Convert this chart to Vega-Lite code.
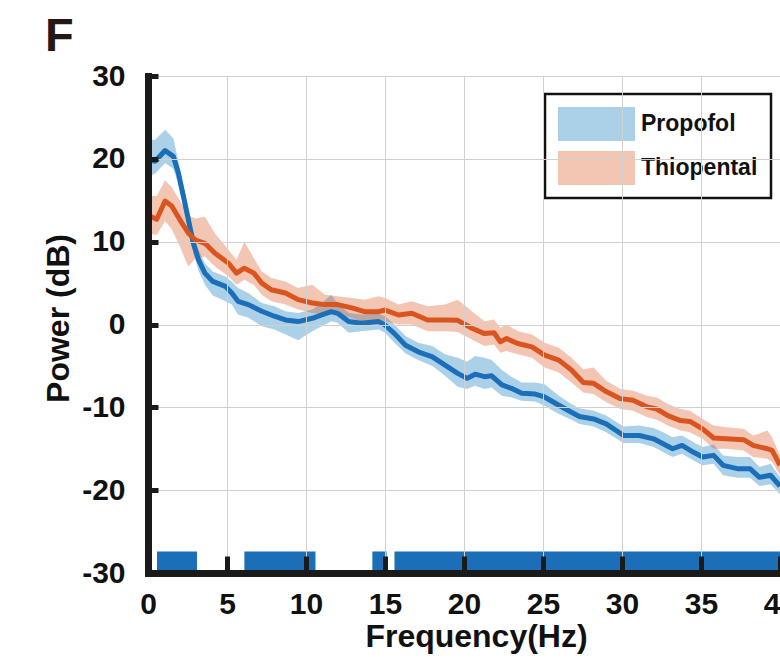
{
  "$schema": "https://vega.github.io/schema/vega-lite/v6.json",
  "width": 632,
  "height": 497,
  "autosize": "none",
  "padding": {"left": 148, "top": 76, "right": 0, "bottom": 88},
  "background": "white",
  "config": {"view": {"stroke": null}, "font": "Liberation Sans", "legend": {"strokeWidth": 2.5}},
  "title": {"text": "F", "anchor": "start", "frame": "group", "fontSize": 47, "fontWeight": "bold", "color": "#231815", "dx": -103, "dy": 49, "offset": 12, "baseline": "alphabetic"},
  "datasets": {
    "psd": [
      {"g":"Propofol","f":0.1,"m":19.9,"lo":18.0,"hi":22.3},
      {"g":"Propofol","f":0.45,"m":19.7,"lo":18.2,"hi":22.3},
      {"g":"Propofol","f":1.08,"m":21.0,"lo":19.5,"hi":23.5},
      {"g":"Propofol","f":1.6,"m":20.3,"lo":18.8,"hi":22.5},
      {"g":"Propofol","f":1.92,"m":18.3,"lo":17.0,"hi":19.8},
      {"g":"Propofol","f":2.24,"m":15.5,"lo":14.2,"hi":16.8},
      {"g":"Propofol","f":2.55,"m":12.7,"lo":11.5,"hi":13.9},
      {"g":"Propofol","f":2.87,"m":9.8,"lo":8.6,"hi":11.0},
      {"g":"Propofol","f":3.2,"m":7.8,"lo":6.5,"hi":9.0},
      {"g":"Propofol","f":3.6,"m":6.2,"lo":4.8,"hi":7.4},
      {"g":"Propofol","f":4.1,"m":5.2,"lo":3.5,"hi":6.4},
      {"g":"Propofol","f":4.9,"m":4.6,"lo":2.8,"hi":5.8},
      {"g":"Propofol","f":5.3,"m":3.8,"lo":2.4,"hi":5.2},
      {"g":"Propofol","f":5.7,"m":2.8,"lo":1.2,"hi":4.4},
      {"g":"Propofol","f":6.35,"m":2.4,"lo":0.8,"hi":3.8},
      {"g":"Propofol","f":7.2,"m":1.6,"lo":-0.2,"hi":2.6},
      {"g":"Propofol","f":8.0,"m":1.0,"lo":-0.6,"hi":2.2},
      {"g":"Propofol","f":8.7,"m":0.55,"lo":-1.2,"hi":1.6},
      {"g":"Propofol","f":9.5,"m":0.35,"lo":-1.9,"hi":1.4},
      {"g":"Propofol","f":10.4,"m":0.75,"lo":-0.8,"hi":1.8},
      {"g":"Propofol","f":11.0,"m":1.15,"lo":-0.2,"hi":2.6},
      {"g":"Propofol","f":11.6,"m":1.55,"lo":0.4,"hi":3.6},
      {"g":"Propofol","f":12.0,"m":1.35,"lo":0.2,"hi":2.5},
      {"g":"Propofol","f":12.7,"m":0.35,"lo":-1.0,"hi":1.4},
      {"g":"Propofol","f":13.5,"m":0.15,"lo":-0.8,"hi":1.2},
      {"g":"Propofol","f":14.6,"m":0.35,"lo":-0.6,"hi":1.3},
      {"g":"Propofol","f":15.0,"m":-0.06,"lo":-1.0,"hi":1.0},
      {"g":"Propofol","f":15.6,"m":-1.1,"lo":-2.2,"hi":0.0},
      {"g":"Propofol","f":16.3,"m":-2.5,"lo":-3.5,"hi":-1.4},
      {"g":"Propofol","f":17.1,"m":-3.3,"lo":-4.3,"hi":-2.2},
      {"g":"Propofol","f":18.0,"m":-3.9,"lo":-5.0,"hi":-2.6},
      {"g":"Propofol","f":18.8,"m":-4.9,"lo":-6.2,"hi":-3.6},
      {"g":"Propofol","f":19.6,"m":-5.9,"lo":-7.5,"hi":-4.0},
      {"g":"Propofol","f":20.2,"m":-6.5,"lo":-7.8,"hi":-4.5},
      {"g":"Propofol","f":20.7,"m":-6.0,"lo":-7.4,"hi":-3.8},
      {"g":"Propofol","f":21.3,"m":-6.3,"lo":-7.8,"hi":-4.0},
      {"g":"Propofol","f":21.75,"m":-6.2,"lo":-7.6,"hi":-4.3},
      {"g":"Propofol","f":22.4,"m":-7.3,"lo":-8.6,"hi":-5.5},
      {"g":"Propofol","f":23.0,"m":-7.7,"lo":-8.8,"hi":-6.3},
      {"g":"Propofol","f":23.65,"m":-8.3,"lo":-9.2,"hi":-7.0},
      {"g":"Propofol","f":24.5,"m":-8.4,"lo":-9.3,"hi":-7.0},
      {"g":"Propofol","f":25.1,"m":-8.75,"lo":-9.8,"hi":-7.2},
      {"g":"Propofol","f":26.0,"m":-9.75,"lo":-10.8,"hi":-8.6},
      {"g":"Propofol","f":26.8,"m":-10.6,"lo":-11.5,"hi":-9.6},
      {"g":"Propofol","f":27.3,"m":-11.1,"lo":-12.0,"hi":-10.1},
      {"g":"Propofol","f":28.2,"m":-11.4,"lo":-12.3,"hi":-10.4},
      {"g":"Propofol","f":29.0,"m":-12.0,"lo":-13.0,"hi":-11.0},
      {"g":"Propofol","f":30.1,"m":-13.4,"lo":-14.3,"hi":-12.3},
      {"g":"Propofol","f":31.1,"m":-13.4,"lo":-14.3,"hi":-12.2},
      {"g":"Propofol","f":32.0,"m":-13.8,"lo":-14.8,"hi":-12.5},
      {"g":"Propofol","f":32.6,"m":-14.4,"lo":-15.4,"hi":-13.0},
      {"g":"Propofol","f":33.2,"m":-15.0,"lo":-16.0,"hi":-13.6},
      {"g":"Propofol","f":33.8,"m":-14.6,"lo":-15.6,"hi":-13.4},
      {"g":"Propofol","f":34.5,"m":-15.4,"lo":-16.4,"hi":-14.2},
      {"g":"Propofol","f":35.1,"m":-16.0,"lo":-17.0,"hi":-14.8},
      {"g":"Propofol","f":35.8,"m":-15.8,"lo":-16.8,"hi":-14.5},
      {"g":"Propofol","f":36.4,"m":-17.0,"lo":-18.2,"hi":-15.8},
      {"g":"Propofol","f":37.3,"m":-17.4,"lo":-18.5,"hi":-16.0},
      {"g":"Propofol","f":38.1,"m":-17.4,"lo":-18.5,"hi":-16.0},
      {"g":"Propofol","f":38.7,"m":-18.45,"lo":-19.5,"hi":-17.2},
      {"g":"Propofol","f":39.4,"m":-18.2,"lo":-19.3,"hi":-16.8},
      {"g":"Propofol","f":40.0,"m":-19.5,"lo":-20.5,"hi":-18.4},
      {"g":"Thiopental","f":0.1,"m":13.1,"lo":11.0,"hi":15.5},
      {"g":"Thiopental","f":0.55,"m":12.7,"lo":10.8,"hi":15.5},
      {"g":"Thiopental","f":1.08,"m":14.9,"lo":12.5,"hi":17.4},
      {"g":"Thiopental","f":1.5,"m":14.3,"lo":11.5,"hi":16.6},
      {"g":"Thiopental","f":2.0,"m":12.7,"lo":9.5,"hi":15.0},
      {"g":"Thiopental","f":2.55,"m":11.05,"lo":7.0,"hi":13.2},
      {"g":"Thiopental","f":3.0,"m":10.2,"lo":8.0,"hi":12.8},
      {"g":"Thiopental","f":3.6,"m":9.8,"lo":8.2,"hi":13.0},
      {"g":"Thiopental","f":4.24,"m":8.6,"lo":7.0,"hi":11.0},
      {"g":"Thiopental","f":5.1,"m":7.4,"lo":5.8,"hi":9.0},
      {"g":"Thiopental","f":5.6,"m":6.2,"lo":4.8,"hi":7.8},
      {"g":"Thiopental","f":6.1,"m":6.8,"lo":5.4,"hi":10.0},
      {"g":"Thiopental","f":6.7,"m":6.2,"lo":4.8,"hi":8.0},
      {"g":"Thiopental","f":7.2,"m":5.0,"lo":3.6,"hi":6.4},
      {"g":"Thiopental","f":7.8,"m":4.2,"lo":2.8,"hi":5.6},
      {"g":"Thiopental","f":8.7,"m":3.8,"lo":2.4,"hi":5.2},
      {"g":"Thiopental","f":9.5,"m":3.0,"lo":1.8,"hi":4.4},
      {"g":"Thiopental","f":10.4,"m":2.6,"lo":1.4,"hi":4.8},
      {"g":"Thiopental","f":11.2,"m":2.4,"lo":1.2,"hi":3.6},
      {"g":"Thiopental","f":12.0,"m":2.4,"lo":1.2,"hi":3.4},
      {"g":"Thiopental","f":12.9,"m":2.0,"lo":0.8,"hi":3.2},
      {"g":"Thiopental","f":13.7,"m":1.55,"lo":0.2,"hi":3.0},
      {"g":"Thiopental","f":14.6,"m":1.55,"lo":0.2,"hi":3.4},
      {"g":"Thiopental","f":15.0,"m":1.75,"lo":0.4,"hi":3.2},
      {"g":"Thiopental","f":15.85,"m":1.15,"lo":0.0,"hi":2.4},
      {"g":"Thiopental","f":16.7,"m":1.35,"lo":0.0,"hi":2.8},
      {"g":"Thiopental","f":17.7,"m":0.55,"lo":-0.8,"hi":2.2},
      {"g":"Thiopental","f":18.8,"m":0.55,"lo":-0.8,"hi":2.4},
      {"g":"Thiopental","f":19.6,"m":0.5,"lo":-0.9,"hi":3.0},
      {"g":"Thiopental","f":20.5,"m":-0.45,"lo":-1.8,"hi":1.6},
      {"g":"Thiopental","f":21.3,"m":-1.1,"lo":-2.6,"hi":0.4},
      {"g":"Thiopental","f":21.9,"m":-1.0,"lo":-2.4,"hi":0.6},
      {"g":"Thiopental","f":22.3,"m":-2.1,"lo":-3.4,"hi":-0.4},
      {"g":"Thiopental","f":22.7,"m":-1.7,"lo":-3.2,"hi":0.0},
      {"g":"Thiopental","f":23.4,"m":-2.3,"lo":-3.6,"hi":-0.8},
      {"g":"Thiopental","f":24.3,"m":-2.7,"lo":-4.0,"hi":-1.2},
      {"g":"Thiopental","f":25.1,"m":-3.7,"lo":-5.2,"hi":-2.2},
      {"g":"Thiopental","f":26.0,"m":-4.3,"lo":-5.8,"hi":-2.8},
      {"g":"Thiopental","f":26.8,"m":-5.5,"lo":-7.0,"hi":-4.0},
      {"g":"Thiopental","f":27.55,"m":-7.0,"lo":-8.2,"hi":-5.4},
      {"g":"Thiopental","f":28.2,"m":-7.1,"lo":-8.4,"hi":-5.2},
      {"g":"Thiopental","f":29.0,"m":-8.1,"lo":-9.4,"hi":-6.8},
      {"g":"Thiopental","f":29.9,"m":-8.95,"lo":-10.2,"hi":-7.8},
      {"g":"Thiopental","f":30.7,"m":-9.15,"lo":-10.4,"hi":-8.0},
      {"g":"Thiopental","f":31.6,"m":-9.95,"lo":-11.2,"hi":-8.6},
      {"g":"Thiopental","f":32.2,"m":-10.2,"lo":-11.5,"hi":-8.8},
      {"g":"Thiopental","f":32.9,"m":-11.0,"lo":-12.2,"hi":-9.6},
      {"g":"Thiopental","f":33.7,"m":-11.6,"lo":-12.8,"hi":-10.2},
      {"g":"Thiopental","f":34.3,"m":-11.7,"lo":-13.0,"hi":-10.4},
      {"g":"Thiopental","f":35.1,"m":-12.6,"lo":-13.8,"hi":-11.4},
      {"g":"Thiopental","f":35.8,"m":-13.7,"lo":-15.0,"hi":-12.2},
      {"g":"Thiopental","f":36.6,"m":-13.8,"lo":-15.0,"hi":-12.4},
      {"g":"Thiopental","f":37.7,"m":-13.9,"lo":-15.2,"hi":-12.6},
      {"g":"Thiopental","f":38.3,"m":-14.6,"lo":-16.0,"hi":-13.4},
      {"g":"Thiopental","f":39.2,"m":-15.0,"lo":-16.2,"hi":-12.8},
      {"g":"Thiopental","f":39.5,"m":-15.2,"lo":-16.6,"hi":-13.6},
      {"g":"Thiopental","f":40.0,"m":-17.0,"lo":-18.2,"hi":-15.8}
    ],
    "sig": [
      {"s": 0.57, "e": 3.1},
      {"s": 6.1, "e": 10.6},
      {"s": 14.2, "e": 15.1},
      {"s": 15.6, "e": 40}
    ]
  },
  "layer": [
    {
      "data": {"name": "psd"},
      "mark": {"type": "area", "fillOpacity": 0.33},
      "encoding": {
        "x": {
          "field": "f", "type": "quantitative",
          "scale": {"domain": [0, 40], "nice": false, "zero": false},
          "axis": {
            "values": [0, 5, 10, 15, 20, 25, 30, 35, 40],
            "labelExpr": "'' + datum.value",
            "title": "Frequency(Hz)",
            "titleFontSize": 32, "titleFontWeight": "bold", "titleColor": "#111111",
            "titleX": 328, "titlePadding": 2,
            "labelFontSize": 30, "labelFontWeight": "bold", "labelColor": "#111111",
            "labelFlush": false, "labelOverlap": false, "labelBound": false,
            "labelPadding": 33,
            "domainColor": "#1a1a1a", "domainWidth": 7, "domainCap": "square",
            "tickColor": "#1a1a1a", "tickWidth": 5, "tickSize": -17,
            "grid": true, "gridColor": "#d0d0d0", "gridWidth": 1,
            "zindex": 1
          }
        },
        "y": {
          "field": "lo", "type": "quantitative",
          "scale": {"domain": [-30, 30], "nice": false, "zero": false},
          "axis": {
            "values": [-30, -20, -10, 0, 10, 20, 30],
            "labelExpr": "'' + datum.value",
            "title": "Power (dB)",
            "titleFontSize": 32, "titleFontWeight": "bold", "titleColor": "#111111",
            "titlePadding": 6, "titleY": 242,
            "labelFontSize": 30, "labelFontWeight": "bold", "labelColor": "#111111",
            "labelFlush": false, "labelOverlap": false,
            "labelPadding": 33,
            "domainColor": "#1a1a1a", "domainWidth": 7, "domainCap": "square",
            "tickColor": "#1a1a1a", "tickWidth": 5, "tickSize": -10,
            "grid": true, "gridColor": "#d0d0d0", "gridWidth": 1,
            "zindex": 1
          }
        },
        "y2": {"field": "hi"},
        "fill": {
          "field": "g", "type": "nominal",
          "scale": {"domain": ["Propofol", "Thiopental"], "range": ["#0072BD", "#D95319"]},
          "legend": {
            "title": null,
            "orient": "none", "legendX": 397, "legendY": 18,
            "symbolType": "M-1,-1L3.53,-1L3.53,1L-1,1Z",
            "symbolSize": 1156, "symbolOpacity": 0.33, "symbolStrokeWidth": 0,
            "labelFontSize": 23, "labelFontWeight": "bold", "labelColor": "#111111",
            "labelOffset": 49, "padding": 13, "rowPadding": 10,
            "strokeColor": "#111111", "fillColor": "white"
          }
        }
      }
    },
    {
      "data": {"name": "psd"},
      "mark": {"type": "line", "strokeWidth": 5, "strokeJoin": "round"},
      "encoding": {
        "x": {"field": "f", "type": "quantitative"},
        "y": {"field": "m", "type": "quantitative"},
        "stroke": {
          "field": "g", "type": "nominal",
          "scale": {"domain": ["Propofol", "Thiopental"], "range": ["#1a6fb8", "#d9541e"]},
          "legend": null
        }
      }
    },
    {
      "data": {"name": "sig"},
      "mark": {"type": "rect", "color": "#1a6fb8"},
      "encoding": {
        "x": {"field": "s", "type": "quantitative"},
        "x2": {"field": "e"},
        "y": {"datum": -27.4},
        "y2": {"datum": -30}
      }
    }
  ]
}
